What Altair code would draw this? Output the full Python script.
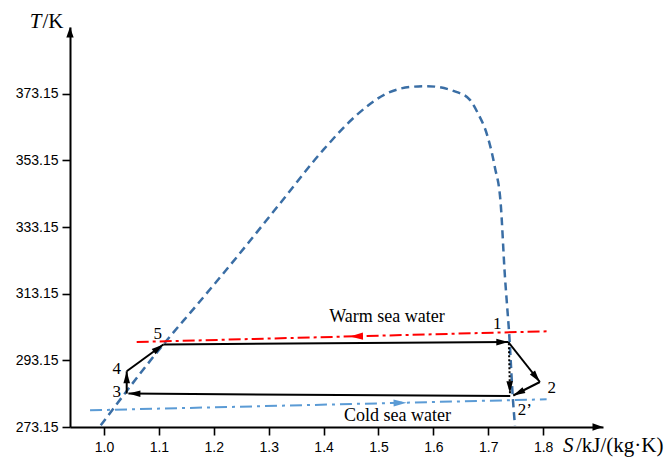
import math
import altair as alt
import pandas as pd

# ---------------- data ----------------
# saturation dome, S in kJ/(kg·K), T in K
dome_S = [0.994, 1.114, 1.166, 1.242, 1.321, 1.399, 1.460, 1.515, 1.557, 1.588,
          1.643, 1.667, 1.681, 1.698, 1.712, 1.7226, 1.7304, 1.7335, 1.738, 1.745, 1.7486]
dome_T = [273.65, 299.1, 309.15, 324.15, 340.3, 356.2, 366.7, 373.2, 375.15, 375.4,
          373.6, 371.2, 367.3, 360.7, 351.1, 340.2, 318.15, 311.2, 301.3, 281.2, 273.65]

# cycle segments: (name, S_start, T_start, S_end, T_end)
seg_names = ["5-1", "1-2", "2-2'", "2'-3", "3-4", "4-5"]
seg_S0 = [1.108, 1.7365, 1.794, 1.740, 1.0413, 1.0413]
seg_T0 = [297.9, 298.65, 286.65, 282.45, 283.17, 289.86]
seg_S1 = [1.7365, 1.794, 1.7455, 1.0444, 1.0413, 1.108]
seg_T1 = [298.65, 286.65, 282.6, 283.17, 289.86, 297.9]

# isentropic (dotted) expansion 1 -> 2'
dot_S = [1.7375, 1.7395]
dot_T = [298.3, 283.3]

# sea water lines
warm_S = [1.0595, 1.8063]
warm_T = [298.65, 301.86]
warm_arrow_S = [1.448]
cold_S = [0.9745, 1.8063]
cold_T = [278.16, 281.46]
cold_arrow_S = [1.5512]

# state labels
state_text = ["1", "2", "2\u2019", "3", "4", "5"]
state_S = [1.7164, 1.8155, 1.7668, 1.0231, 1.0231, 1.0978]
state_T = [304.17, 284.97, 278.16, 283.65, 290.46, 301.17]

water_text = ["Warm sea water", "Cold sea water"]
water_S = [1.5155, 1.5346]
water_T = [306.15, 276.36]

x_ticks = [1.0, 1.1, 1.2, 1.3, 1.4, 1.5, 1.6, 1.7, 1.8]
y_ticks = [273.15, 293.15, 313.15, 333.15, 353.15, 373.15]

# ---------------- layout ----------------
W, H = 533, 400
PAD = {"left": 70, "top": 27, "right": 65, "bottom": 32}
S_dom = [0.938, 1.909]
T_dom = [273.15, 393.15]
kx = W / (S_dom[1] - S_dom[0])
ky = H / (T_dom[1] - T_dom[0])

BLUE = "#3a6ea5"
LBLUE = "#5b9bd5"
RED = "#ff0000"
SERIF = "Liberation Serif"
SANS = "Liberation Sans"
ARROW_AX = "M0,0L0.7,2L-0.7,2Z"      # tip at origin, pointing up
ARROW_CY = "M0,0L0.55,2L-0.55,2Z"


def ang(s0, t0, s1, t1):
    a = math.degrees(math.atan2((s1 - s0) * kx, (t1 - t0) * ky))
    return a % 360


xs = alt.Scale(domain=S_dom, zero=False, nice=False)
ys = alt.Scale(domain=T_dom, zero=False, nice=False)
x_axis = alt.Axis(
    values=x_ticks, format=".1f", title=None, grid=False,
    labelFont=SANS, labelFontSize=14, labelColor="black", labelPadding=5,
    tickColor="black", tickWidth=1.6, tickSize=8,
    domainColor="black", domainWidth=2, labelOverlap=False)
y_axis = alt.Axis(
    values=y_ticks, format=".2f", title=None, grid=False,
    labelFont=SANS, labelFontSize=14, labelColor="black", labelPadding=4,
    tickColor="black", tickWidth=1.6, tickSize=8,
    domainColor="black", domainWidth=2, labelOverlap=False)
X = lambda f="S": alt.X(f"{f}:Q", scale=xs, axis=x_axis)
Y = lambda f="T": alt.Y(f"{f}:Q", scale=ys, axis=y_axis)

axis_arrows = alt.Chart(pd.DataFrame({
    "S": [S_dom[0], S_dom[1]], "T": [T_dom[1], T_dom[0]], "a": [0, 90]})).mark_point(
    shape=ARROW_AX, filled=True, size=110, color="black", opacity=1, strokeWidth=0
).encode(x=X(), y=Y(), angle=alt.Angle("a:Q", scale=None))

# dome
dome_df = pd.DataFrame({"S": dome_S, "T": dome_T, "i": range(len(dome_S))})
dome = alt.Chart(dome_df).mark_line(
    color=BLUE, strokeWidth=2.5, strokeDash=[8, 5], interpolate="monotone"
).encode(x=X(), y=Y(), order="i:Q")

# sea water lines
warm = alt.Chart(pd.DataFrame({"S": warm_S, "T": warm_T})).mark_line(
    color=RED, strokeWidth=2, strokeDash=[12, 4, 3, 4]).encode(x=X(), y=Y())
cold = alt.Chart(pd.DataFrame({"S": cold_S, "T": cold_T})).mark_line(
    color=LBLUE, strokeWidth=2, strokeDash=[12, 5, 3, 5]).encode(x=X(), y=Y())


def on_line(Ss, Ts, s):
    return Ts[0] + (Ts[1] - Ts[0]) * (s - Ss[0]) / (Ss[1] - Ss[0])


water_arrow_df = pd.DataFrame({
    "S": [warm_arrow_S[0], cold_arrow_S[0]],
    "T": [on_line(warm_S, warm_T, warm_arrow_S[0]), on_line(cold_S, cold_T, cold_arrow_S[0])],
    "a": [ang(warm_S[1], warm_T[1], warm_S[0], warm_T[0]), ang(cold_S[0], cold_T[0], cold_S[1], cold_T[1])],
    "c": [RED, LBLUE],
})
water_arrows = alt.Chart(water_arrow_df).mark_point(
    shape=ARROW_CY, filled=True, size=170, opacity=1, strokeWidth=0
).encode(x=X(), y=Y(), angle=alt.Angle("a:Q", scale=None), color=alt.Color("c:N", scale=None))

# cycle
rows = []
heads = []
for n, s0, t0, s1, t1 in zip(seg_names, seg_S0, seg_T0, seg_S1, seg_T1):
    rows.append({"seg": n, "o": 0, "S": s0, "T": t0})
    rows.append({"seg": n, "o": 1, "S": s1, "T": t1})
    heads.append({"S": s1, "T": t1, "a": ang(s0, t0, s1, t1)})
cycle = alt.Chart(pd.DataFrame(rows)).mark_line(color="black", strokeWidth=2).encode(
    x=X(), y=Y(), detail="seg:N", order="o:Q")

dotted = alt.Chart(pd.DataFrame({"S": dot_S, "T": dot_T})).mark_line(
    color="black", strokeWidth=2, strokeDash=[2, 2]).encode(x=X(), y=Y())
heads.append({"S": dot_S[1], "T": dot_T[1], "a": ang(dot_S[0], dot_T[0], dot_S[1], dot_T[1])})

cycle_heads = alt.Chart(pd.DataFrame(heads)).mark_point(
    shape=ARROW_CY, filled=True, size=144, color="black", opacity=1, strokeWidth=0
).encode(x=X(), y=Y(), angle=alt.Angle("a:Q", scale=None))

# labels
state_labels = alt.Chart(pd.DataFrame({"S": state_S, "T": state_T, "t": state_text})).mark_text(
    font=SERIF, fontSize=17, color="black", align="center", baseline="middle"
).encode(x=X(), y=Y(), text="t:N")

water_labels = alt.Chart(pd.DataFrame({"S": water_S, "T": water_T, "t": water_text})).mark_text(
    font=SERIF, fontSize=18, color="black", align="center", baseline="middle"
).encode(x=X(), y=Y(), text="t:N")

one = alt.Data(values=[{}])
t_ital = alt.Chart(one).mark_text(text="T", font=SERIF, fontSize=21, fontStyle="italic",
                                  align="right", baseline="middle", color="black").encode(
    x=alt.value(41.5 - PAD["left"]), y=alt.value(22 - PAD["top"]))
t_rest = alt.Chart(one).mark_text(text="/K", font=SERIF, fontSize=21,
                                  align="left", baseline="middle", color="black").encode(
    x=alt.value(42.5 - PAD["left"]), y=alt.value(22 - PAD["top"]))
s_ital = alt.Chart(one).mark_text(text="S", font=SERIF, fontSize=21, fontStyle="italic",
                                  align="left", baseline="middle", color="black").encode(
    x=alt.value(563 - PAD["left"]), y=alt.value(446 - PAD["top"]))
s_rest = alt.Chart(one).mark_text(text="/kJ/(kg\u00b7K)", font=SERIF, fontSize=21,
                                  align="left", baseline="middle", color="black").encode(
    x=alt.value(576 - PAD["left"]), y=alt.value(446 - PAD["top"]))

chart = alt.layer(
    dome, warm, cold, cycle, dotted, cycle_heads, water_arrows,
    state_labels, water_labels, axis_arrows, t_ital, t_rest, s_ital, s_rest
).properties(
    width=W, height=H,
    autosize=alt.AutoSizeParams(type="none"),
    padding=PAD,
    background="white",
).configure_view(stroke=None)

chart.save("out.html", embed_options={"renderer": "svg", "actions": False})
